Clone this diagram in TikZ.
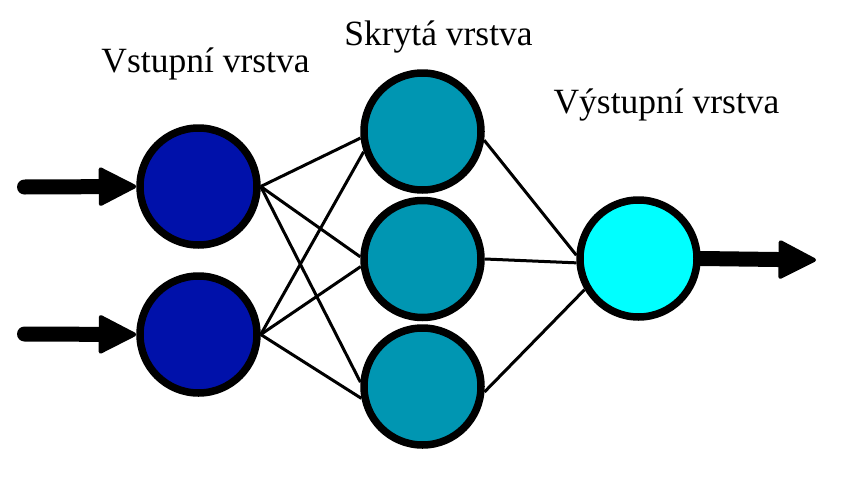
\documentclass[tikz,border=0pt]{standalone}
\usepackage{fontspec}
\setmainfont{Liberation Serif}
\newfontfamily\layerfont{Liberation Serif}
\usetikzlibrary{arrows.meta}
\definecolor{inblue}{RGB}{0,17,170}
\definecolor{hidteal}{RGB}{0,150,178}
\definecolor{outcyan}{RGB}{0,255,255}
\begin{document}
\begin{tikzpicture}[x=1pt, y=-1pt,
  neuron/.style={circle, draw, line width=7.5pt, minimum size=117pt, inner sep=0pt},
  link/.style={line width=3pt},
  signal/.style={line width=15pt, line cap=round, -{Triangle[length=40pt,width=40pt,line width=4pt,round]}},
  layer/.style={font=\layerfont\fontsize{35.5}{40}\selectfont, anchor=base, inner sep=0pt}]
  \useasboundingbox (0,0) rectangle (854,482);

  % Layer labels
  \node[layer] (lin)  at (205.5,72)  {Vstupní vrstva};
  \node[layer] (lhid) at (438.5,45)  {Skrytá vrstva};
  \node[layer] (lout) at (666.5,113) {Výstupní vrstva};

  % Nodes
  \node[neuron, fill=inblue]  (in1) at (198.5,186.5) {};
  \node[neuron, fill=inblue]  (in2) at (198.5,334.5) {};
  \node[neuron, fill=hidteal] (h1)  at (422.5,131.5) {};
  \node[neuron, fill=hidteal] (h2)  at (422.5,259)   {};
  \node[neuron, fill=hidteal] (h3)  at (422.5,386.5) {};
  \node[neuron, fill=outcyan] (out) at (638.5,258.5) {};

  % Free ends of the signals
  \coordinate (x1) at (24.5,187);
  \coordinate (x2) at (24.5,334);
  \coordinate (y)  at (816,260);

  % Input to hidden
  \draw[link] (in1.east) -- (h1.186);
  \draw[link] (in1.east) -- (h2.178);
  \draw[link] (in1.east) -- (h3.176);
  \draw[link] (in2.east) -- (h1.199);
  \draw[link] (in2.east) -- (h2.187);
  \draw[link] (in2.east) -- (h3.191);

  % Hidden to output
  \draw[link] (h1.-8) -- (out.177);
  \draw[link] (h2.east) -- (out.184);
  \draw[link] (h3.-5) -- (out.210);

  % Signals in and out
  \draw[signal] (x1) -- (in1.west);
  \draw[signal] (x2) -- (in2.west);
  \draw[signal] (out.east) -- (y);
\end{tikzpicture}
\end{document}
